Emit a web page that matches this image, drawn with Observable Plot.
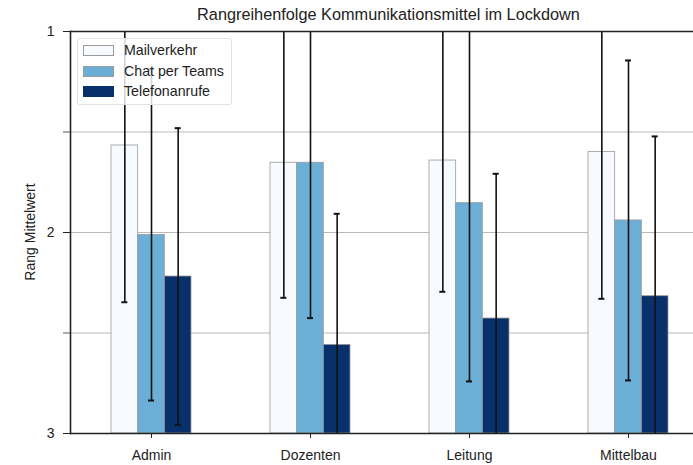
<!DOCTYPE html>
<html>
<head>
<meta charset="utf-8">
<script src="https://cdn.jsdelivr.net/npm/d3@7"></script>
<script src="https://cdn.jsdelivr.net/npm/@observablehq/plot@0.6"></script>
<style>
  html, body { margin: 0; padding: 0; background: #fff; overflow: hidden; }
  #wrap { position: relative; width: 693px; height: 465px; overflow: hidden; font-family: "Liberation Sans", Arial, sans-serif; color: #222; }
  #chart svg { display: block; max-width: none; }
  #title { position: absolute; left: 70px; width: 637px; top: 5px; text-align: center; font-size: 16.3px; line-height: 18px; white-space: nowrap; }
  #ylabel { position: absolute; left: 30px; top: 232px; transform: translate(-50%, -50%) rotate(-90deg); font-size: 14px; line-height: 16px; white-space: nowrap; }
  #legend { position: absolute; left: 77px; top: 38px; width: 155px; height: 67px; background: rgba(255,255,255,0.82); border: 1px solid #e2e2e2; border-radius: 3px; box-sizing: border-box; font-size: 14.2px; }
  .item { position: absolute; left: 0; height: 16px; line-height: 16px; white-space: nowrap; }
  .sw { position: absolute; left: 5px; top: 3px; width: 29px; height: 9px; border: 1px solid #9a9a9a; }
  .lab { position: absolute; left: 46px; top: 0; }
</style>
</head>
<body>
<div id="wrap">
  <div id="chart"></div>
  <div id="title"></div>
  <div id="ylabel"></div>
  <div id="legend"></div>
</div>
<script>
const titleText = "Rangreihenfolge Kommunikationsmittel im Lockdown";
const yLabel = "Rang Mittelwert";
const categories = ["Admin", "Dozenten", "Leitung", "Mittelbau"];
const series = ["Mailverkehr", "Chat per Teams", "Telefonanrufe"];
const colors = ["#f7fbff", "#6baed6", "#08306b"];
const mailMean = [1.567, 1.653, 1.642, 1.600];
const chatMean = [2.012, 1.653, 1.854, 1.940];
const phoneMean = [2.219, 2.559, 2.428, 2.317];
const mailErr = [0.780, 0.672, 0.653, 0.730];
const chatErr = [0.824, 0.773, 0.887, 0.796];
const phoneErr = [0.738, 0.652, 0.720, 0.795];
const yDomain = [1, 3];
const yTicks = [1, 2, 3];
const yMinorTicks = [1.5, 2.5];
const gridValues = [1.5, 2, 2.5];

const means = [mailMean, chatMean, phoneMean];
const errs = [mailErr, chatErr, phoneErr];
const rows = [];
series.forEach((s, si) => categories.forEach((c, ci) => {
  rows.push({cat: c, series: s, si, value: means[si][ci], lo: means[si][ci] - errs[si][ci], hi: means[si][ci] + errs[si][ci]});
}));

document.getElementById("title").textContent = titleText;
document.getElementById("ylabel").textContent = yLabel;

// The plot area runs past the right edge of the picture (as in the reference)
const W = 693, H = 465, mL = 70, mR = 0, mT = 31, mB = 32;
const xRange = [70, 708];
const pIn = 0.5, pOut = 0.244;
const step = (xRange[1] - xRange[0]) / (categories.length - pIn + 2 * pOut);
const bw = step * (1 - pIn);
const w = bw / 3;
const capInset = (bw - 6) / 2;

const marks = [
  Plot.ruleY(gridValues, {stroke: "#b9b9b9", strokeWidth: 1})
];
series.forEach((s, si) => {
  const d = rows.filter(r => r.si === si);
  marks.push(Plot.barY(d, {x: "cat", y1: yDomain[1], y2: "value", fill: colors[si], stroke: "#9a9a9a", strokeWidth: 0.8, dx: (si - 1) * w, insetLeft: w, insetRight: w}));
});
series.forEach((s, si) => {
  const d = rows.filter(r => r.si === si);
  marks.push(Plot.ruleX(d, {x: "cat", y1: "lo", y2: "hi", dx: (si - 1) * w, stroke: "#111", strokeWidth: 1.6, clip: true}));
  marks.push(Plot.tickY(d, {x: "cat", y: "lo", dx: (si - 1) * w, insetLeft: capInset, insetRight: capInset, stroke: "#111", strokeWidth: 2, clip: true}));
  marks.push(Plot.tickY(d, {x: "cat", y: "hi", dx: (si - 1) * w, insetLeft: capInset, insetRight: capInset, stroke: "#111", strokeWidth: 2, clip: true}));
});
marks.push(Plot.frame({anchor: "left", stroke: "#222", strokeWidth: 1.6}));
marks.push(Plot.frame({anchor: "top", stroke: "#222", strokeWidth: 1.6}));
marks.push(Plot.frame({anchor: "bottom", stroke: "#222", strokeWidth: 1.6}));
marks.push(Plot.axisY({anchor: "left", ticks: yTicks, tickSize: 7, tickPadding: 9, tickFormat: d => String(d), stroke: "#222", label: null, fontSize: 14}));
marks.push(Plot.axisY({anchor: "left", ticks: yMinorTicks, tickSize: 7, tickFormat: () => "", stroke: "#555", label: null}));
marks.push(Plot.axisX({anchor: "bottom", tickSize: 5, tickPadding: 12, stroke: "#222", label: null, fontSize: 14}));

const chart = Plot.plot({
  width: W, height: H,
  marginTop: mT, marginBottom: mB, marginLeft: mL, marginRight: mR,
  x: {domain: categories, range: xRange, paddingInner: pIn, paddingOuter: pOut, label: null},
  y: {domain: yDomain, reverse: true, label: null},
  style: {fontFamily: '"Liberation Sans", Arial, sans-serif', fontSize: "14px", color: "#222", background: "#fff", maxWidth: "none"},
  marks
});
document.getElementById("chart").appendChild(chart);

const lg = document.getElementById("legend");
series.forEach((s, si) => {
  const it = document.createElement("div");
  it.className = "item";
  it.style.top = (3 + si * 20.5) + "px";
  const sw = document.createElement("div");
  sw.className = "sw";
  sw.style.background = colors[si];
  if (si === 2) sw.style.borderColor = colors[si];
  const lb = document.createElement("span");
  lb.className = "lab";
  lb.textContent = s;
  it.appendChild(sw); it.appendChild(lb);
  lg.appendChild(it);
});
</script>
</body>
</html>
